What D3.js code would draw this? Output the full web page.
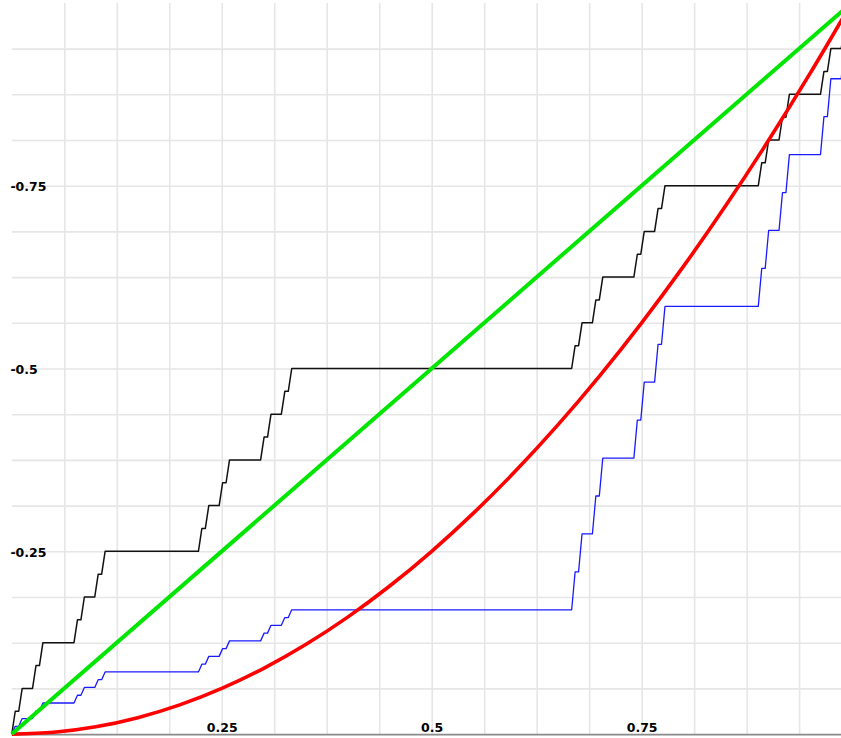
<!DOCTYPE html>
<html><head><meta charset="utf-8">
<script src="https://cdn.jsdelivr.net/npm/d3@7"></script>
<style>html,body{margin:0;padding:0;background:#fff;overflow:hidden}</style>
</head><body><svg id="c" width="841" height="738"></svg>
<script>
// ---- data ----
const gridValues = [0.0625, 0.125, 0.1875, 0.25, 0.3125, 0.375, 0.4375, 0.5,
                    0.5625, 0.625, 0.6875, 0.75, 0.8125, 0.875, 0.9375];
const xTickValues = [0.25, 0.5, 0.75];
const xTickLabels = ["0.25", "0.5", "0.75"];
const yTickValues = [0.25, 0.5, 0.75];
const yTickLabels = ["-0.25", "-0.5", "-0.75"];

// start of each rising piece of the staircases, in units of 1/243
const stepStarts243 = [0, 2, 6, 8, 18, 20, 24, 26, 54, 56, 60, 62, 72, 74, 78, 80,
                       162, 164, 168, 170, 180, 182, 186, 188, 216, 218, 222, 224, 234, 236, 240, 242];
// black staircase levels (flat values)
const blackLevels = [0, 0.03125, 0.0625, 0.09375, 0.125, 0.15625, 0.1875, 0.21875,
                     0.25, 0.28125, 0.3125, 0.34375, 0.375, 0.40625, 0.4375, 0.46875,
                     0.5, 0.53125, 0.5625, 0.59375, 0.625, 0.65625, 0.6875, 0.71875,
                     0.75, 0.78125, 0.8125, 0.84375, 0.875, 0.90625, 0.9375, 0.96875, 1];
// blue staircase levels (flat values)
const blueLevels = [0, 0.0106, 0.0213, 0.0319, 0.0425, 0.0531, 0.0638, 0.0744,
                    0.085, 0.0956, 0.1063, 0.1169, 0.1275, 0.1381, 0.1488, 0.1594,
                    0.17, 0.2219, 0.2738, 0.3256, 0.3775, 0.4294, 0.4813, 0.5331,
                    0.585, 0.6369, 0.6888, 0.7406, 0.7925, 0.8444, 0.8963, 0.9481, 1];
// green straight line
const greenX = [0, 1];
const greenY = [0, 1];
// red curve
const redX = [0, 0.05, 0.1, 0.15, 0.2, 0.25, 0.3, 0.35, 0.4, 0.45, 0.5,
              0.55, 0.6, 0.65, 0.7, 0.75, 0.8, 0.85, 0.9, 0.95, 1];
const redY = [0, 0.0025, 0.01, 0.0225, 0.04, 0.0625, 0.09, 0.1225, 0.16, 0.2025, 0.25,
              0.3025, 0.36, 0.4225, 0.49, 0.5625, 0.64, 0.7225, 0.81, 0.9025, 1];

// ---- drawing ----
const svg = d3.select("#c");
const x = d3.scaleLinear().domain([0, 1]).range([11.8, 851.6]);
const y = d3.scaleLinear().domain([0, 1]).range([734.1, 2.9]);

// vertical grid
svg.append("g").attr("transform", "translate(0,734.1)")
  .call(d3.axisBottom(x).tickValues(gridValues).tickSize(-(734.1 - 2.9)).tickFormat(""))
  .call(g => g.select(".domain").remove())
  .call(g => g.selectAll("line").attr("stroke", "#e6e6e6").attr("stroke-width", 1.6));
// horizontal grid
svg.append("g").attr("transform", "translate(11.8,0)")
  .call(d3.axisRight(y).tickValues(gridValues).tickSize(860).tickFormat(""))
  .call(g => g.select(".domain").remove())
  .call(g => g.selectAll("line").attr("stroke", "#e6e6e6").attr("stroke-width", 1.6));

// bottom axis line
svg.append("g").attr("transform", "translate(0,734.1)")
  .call(d3.axisBottom(x).tickValues([]).tickSizeOuter(0))
  .call(g => g.select(".domain").attr("stroke", "#8a8a8a").attr("stroke-width", 1.6));

function stairs(levels) {
  const pts = [];
  stepStarts243.forEach((s, i) => {
    pts.push([s / 243, levels[i]]);
    pts.push([(s + 1) / 243, levels[i + 1]]);
  });
  return pts;
}
const line = d3.line().x(d => x(d[0])).y(d => y(d[1]));

svg.append("path").datum(stairs(blackLevels)).attr("d", line)
  .attr("fill", "none").attr("stroke", "#111").attr("stroke-width", 1.5).attr("stroke-linejoin", "round");
svg.append("path").datum(stairs(blueLevels)).attr("d", line)
  .attr("fill", "none").attr("stroke", "#1a1aff").attr("stroke-width", 1.3).attr("stroke-linejoin", "round");
svg.append("path").datum(redX.map((v, i) => [v, redY[i]]))
  .attr("d", d3.line().x(d => x(d[0])).y(d => y(d[1])).curve(d3.curveMonotoneX))
  .attr("fill", "none").attr("stroke", "#ff0000").attr("stroke-width", 3.6);
svg.append("path").datum(greenX.map((v, i) => [v, greenY[i]])).attr("d", line)
  .attr("fill", "none").attr("stroke", "#00e600").attr("stroke-width", 4);

// tick labels
const fontCSS = "font-family:'DejaVu Sans';font-weight:bold;font-size:12.5px;fill:#000";
svg.append("g").attr("transform", "translate(0,734.1)")
  .call(d3.axisTop(x).tickValues(xTickValues).tickSize(0).tickPadding(2.4)
        .tickFormat((d, i) => xTickLabels[i]))
  .call(g => g.select(".domain").remove())
  .call(g => g.selectAll("text").attr("style", fontCSS));
svg.append("g").attr("transform", "translate(10.4,0)")
  .call(d3.axisRight(y).tickValues(yTickValues).tickSize(0).tickPadding(0)
        .tickFormat((d, i) => yTickLabels[i]))
  .call(g => g.select(".domain").remove())
  .call(g => g.selectAll("text").attr("dy", "0.4em").attr("style", fontCSS));
</script>
</body></html>
